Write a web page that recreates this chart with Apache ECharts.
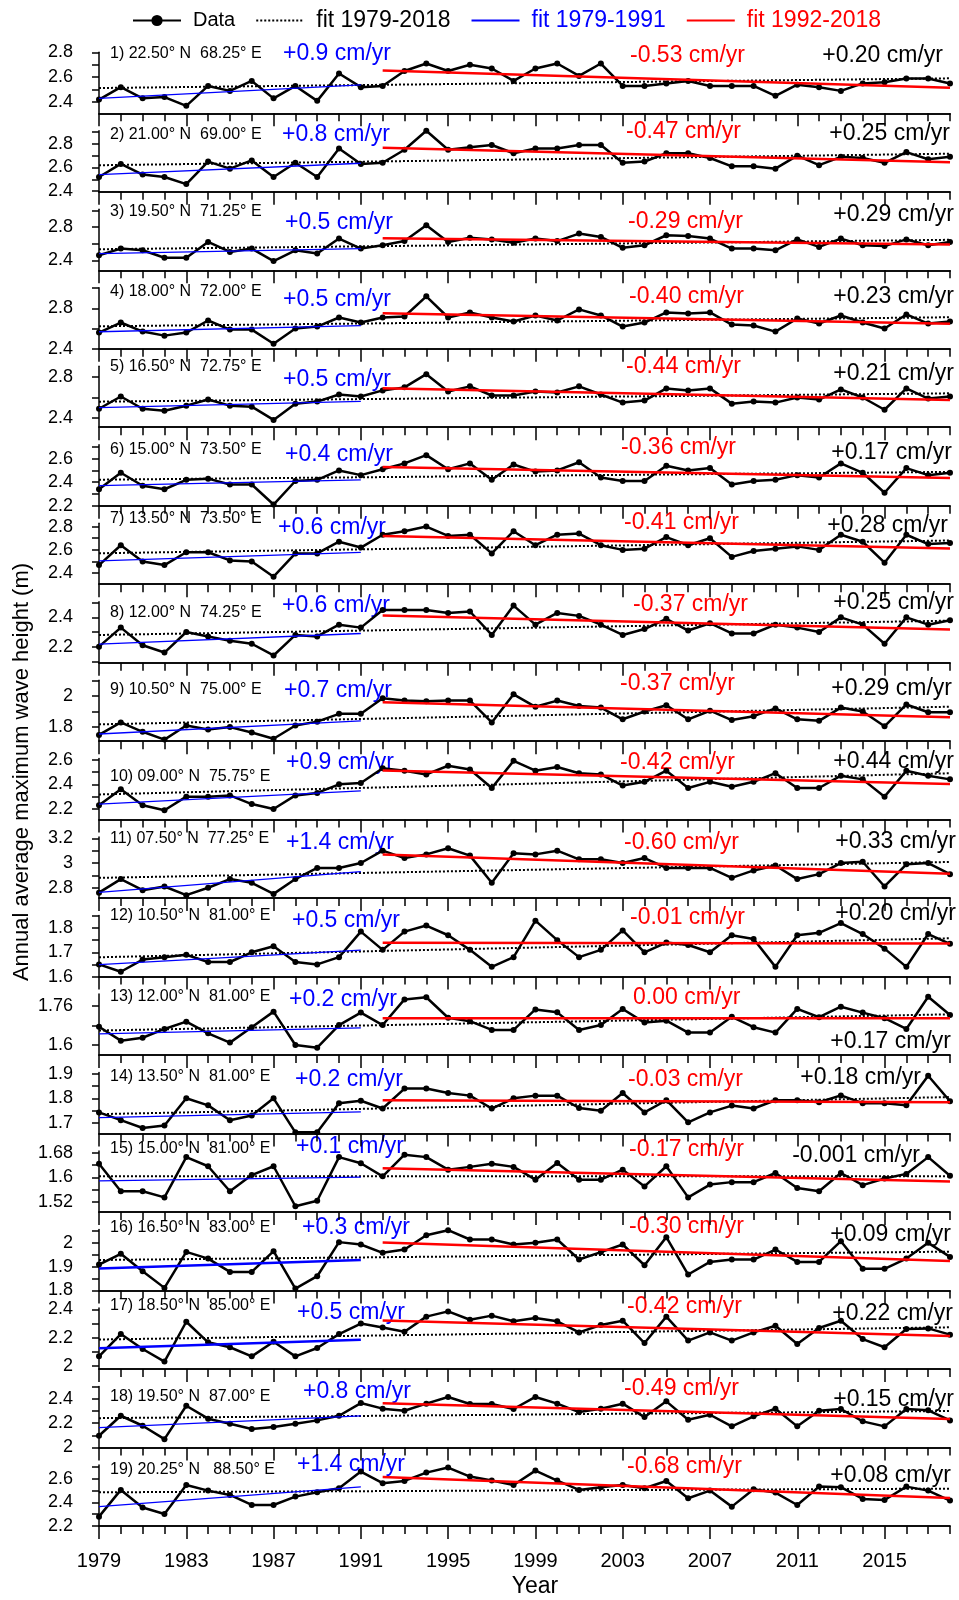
<!DOCTYPE html>
<html>
<head>
<meta charset="utf-8">
<script src="https://cdn.jsdelivr.net/npm/echarts@6/dist/echarts.min.js"></script>
<style>
  html, body { margin: 0; background: #fff; }
  #chart { width: 959px; height: 1600px; }
</style>
</head>
<body>
<div id="chart"></div>
<script>
// years on the x axis
const years = [1979, 1980, 1981, 1982, 1983, 1984, 1985, 1986, 1987, 1988,
  1989, 1990, 1991, 1992, 1993, 1994, 1995, 1996, 1997, 1998,
  1999, 2000, 2001, 2002, 2003, 2004, 2005, 2006, 2007, 2008,
  2009, 2010, 2011, 2012, 2013, 2014, 2015, 2016, 2017, 2018]

// annual average maximum wave height (m), one array per location
const h1 = [2.42, 2.52, 2.43, 2.44, 2.37, 2.53, 2.49, 2.57, 2.43, 2.53, 2.41, 2.63, 2.52, 2.53, 2.65, 2.71, 2.65, 2.70, 2.67, 2.57, 2.67, 2.71, 2.61, 2.71, 2.53, 2.53, 2.55, 2.57, 2.53, 2.53, 2.53, 2.45, 2.54, 2.52, 2.49, 2.55, 2.56, 2.59, 2.59, 2.55]
const h2 = [2.52, 2.63, 2.54, 2.52, 2.46, 2.65, 2.59, 2.66, 2.52, 2.64, 2.52, 2.76, 2.63, 2.64, 2.75, 2.91, 2.75, 2.77, 2.79, 2.72, 2.76, 2.76, 2.79, 2.79, 2.64, 2.65, 2.72, 2.72, 2.68, 2.61, 2.61, 2.59, 2.70, 2.62, 2.69, 2.68, 2.64, 2.73, 2.67, 2.69]
const h3 = [2.46, 2.54, 2.52, 2.43, 2.43, 2.62, 2.50, 2.54, 2.39, 2.52, 2.48, 2.66, 2.54, 2.58, 2.63, 2.82, 2.62, 2.67, 2.65, 2.61, 2.66, 2.63, 2.72, 2.68, 2.55, 2.58, 2.70, 2.69, 2.66, 2.54, 2.54, 2.52, 2.65, 2.56, 2.66, 2.58, 2.57, 2.65, 2.58, 2.62]
const h4 = [2.56, 2.66, 2.57, 2.53, 2.56, 2.68, 2.59, 2.59, 2.45, 2.60, 2.62, 2.71, 2.66, 2.71, 2.72, 2.92, 2.71, 2.76, 2.71, 2.67, 2.73, 2.68, 2.79, 2.73, 2.62, 2.66, 2.76, 2.75, 2.76, 2.64, 2.63, 2.57, 2.70, 2.65, 2.73, 2.66, 2.60, 2.74, 2.65, 2.67]
const h5 = [2.49, 2.61, 2.49, 2.47, 2.52, 2.58, 2.52, 2.51, 2.38, 2.54, 2.56, 2.63, 2.61, 2.67, 2.70, 2.83, 2.66, 2.71, 2.62, 2.62, 2.66, 2.65, 2.71, 2.63, 2.55, 2.57, 2.69, 2.67, 2.69, 2.54, 2.56, 2.55, 2.60, 2.58, 2.68, 2.60, 2.48, 2.69, 2.59, 2.61]
const h6 = [2.34, 2.48, 2.37, 2.34, 2.42, 2.43, 2.38, 2.38, 2.21, 2.41, 2.42, 2.50, 2.46, 2.51, 2.56, 2.63, 2.51, 2.56, 2.42, 2.55, 2.49, 2.50, 2.57, 2.44, 2.41, 2.41, 2.54, 2.50, 2.52, 2.38, 2.41, 2.42, 2.46, 2.44, 2.56, 2.48, 2.31, 2.52, 2.46, 2.48]
const h7 = [2.47, 2.64, 2.50, 2.47, 2.58, 2.58, 2.51, 2.50, 2.37, 2.57, 2.57, 2.67, 2.62, 2.73, 2.76, 2.80, 2.72, 2.73, 2.57, 2.76, 2.64, 2.73, 2.74, 2.64, 2.60, 2.61, 2.71, 2.64, 2.70, 2.54, 2.59, 2.61, 2.63, 2.60, 2.73, 2.67, 2.49, 2.73, 2.65, 2.66]
const h8 = [2.20, 2.33, 2.21, 2.16, 2.30, 2.27, 2.24, 2.22, 2.14, 2.28, 2.27, 2.35, 2.33, 2.45, 2.45, 2.45, 2.43, 2.44, 2.28, 2.48, 2.35, 2.43, 2.41, 2.35, 2.28, 2.32, 2.39, 2.31, 2.36, 2.29, 2.29, 2.35, 2.33, 2.30, 2.40, 2.35, 2.22, 2.40, 2.35, 2.38]
const h9 = [1.75, 1.83, 1.77, 1.72, 1.81, 1.785, 1.80, 1.765, 1.725, 1.81, 1.835, 1.885, 1.885, 1.985, 1.97, 1.965, 1.97, 1.97, 1.83, 2.01, 1.93, 1.97, 1.935, 1.925, 1.85, 1.90, 1.94, 1.85, 1.905, 1.845, 1.87, 1.92, 1.85, 1.84, 1.925, 1.90, 1.805, 1.945, 1.895, 1.895]
const h10 = [2.23, 2.36, 2.23, 2.19, 2.30, 2.30, 2.31, 2.24, 2.20, 2.31, 2.33, 2.40, 2.41, 2.53, 2.51, 2.48, 2.55, 2.52, 2.37, 2.59, 2.51, 2.54, 2.49, 2.48, 2.39, 2.42, 2.51, 2.37, 2.42, 2.38, 2.42, 2.49, 2.37, 2.37, 2.47, 2.44, 2.30, 2.51, 2.47, 2.44]
const h11 = [2.76, 2.87, 2.78, 2.81, 2.74, 2.80, 2.87, 2.84, 2.75, 2.87, 2.96, 2.96, 3.00, 3.10, 3.04, 3.07, 3.12, 3.06, 2.84, 3.08, 3.07, 3.10, 3.03, 3.03, 3.00, 3.04, 2.96, 2.96, 2.96, 2.88, 2.94, 2.98, 2.87, 2.91, 3.00, 3.01, 2.81, 2.99, 3.00, 2.91]
const h12 = [1.65, 1.62, 1.67, 1.68, 1.69, 1.66, 1.66, 1.70, 1.725, 1.66, 1.65, 1.68, 1.785, 1.71, 1.785, 1.81, 1.77, 1.71, 1.64, 1.68, 1.83, 1.75, 1.68, 1.71, 1.79, 1.70, 1.74, 1.73, 1.70, 1.77, 1.755, 1.64, 1.77, 1.78, 1.82, 1.775, 1.715, 1.64, 1.775, 1.735]
const h13 = [1.675, 1.618, 1.63, 1.666, 1.696, 1.648, 1.61, 1.673, 1.737, 1.60, 1.589, 1.682, 1.733, 1.682, 1.787, 1.796, 1.712, 1.698, 1.662, 1.662, 1.746, 1.734, 1.662, 1.682, 1.748, 1.692, 1.70, 1.651, 1.651, 1.716, 1.673, 1.651, 1.748, 1.714, 1.757, 1.733, 1.71, 1.666, 1.798, 1.723]
const h14 = [1.742, 1.71, 1.678, 1.688, 1.80, 1.771, 1.71, 1.729, 1.80, 1.66, 1.66, 1.78, 1.79, 1.758, 1.84, 1.84, 1.822, 1.811, 1.758, 1.80, 1.811, 1.811, 1.76, 1.749, 1.822, 1.742, 1.792, 1.701, 1.742, 1.77, 1.758, 1.792, 1.792, 1.784, 1.812, 1.78, 1.78, 1.771, 1.893, 1.788]
const h15 = [1.644, 1.554, 1.554, 1.534, 1.666, 1.636, 1.554, 1.607, 1.636, 1.505, 1.523, 1.666, 1.646, 1.603, 1.674, 1.666, 1.625, 1.634, 1.644, 1.634, 1.592, 1.647, 1.592, 1.592, 1.625, 1.57, 1.636, 1.534, 1.576, 1.584, 1.584, 1.614, 1.565, 1.554, 1.614, 1.574, 1.596, 1.611, 1.666, 1.605]
const h16 = [1.909, 1.954, 1.881, 1.811, 1.962, 1.934, 1.878, 1.878, 1.965, 1.808, 1.86, 2.003, 1.993, 1.958, 1.972, 2.032, 2.053, 2.014, 2.014, 1.993, 2.00, 2.014, 1.93, 1.961, 1.993, 1.906, 2.024, 1.867, 1.92, 1.93, 1.93, 1.972, 1.92, 1.92, 2.007, 1.891, 1.891, 1.934, 2.00, 1.941]
const h17 = [2.069, 2.226, 2.121, 2.032, 2.313, 2.168, 2.133, 2.069, 2.172, 2.069, 2.128, 2.226, 2.30, 2.273, 2.243, 2.349, 2.386, 2.327, 2.356, 2.316, 2.339, 2.316, 2.238, 2.29, 2.32, 2.163, 2.349, 2.18, 2.238, 2.18, 2.238, 2.285, 2.156, 2.269, 2.32, 2.191, 2.133, 2.262, 2.266, 2.222]
const h18 = [2.096, 2.26, 2.178, 2.068, 2.342, 2.236, 2.195, 2.151, 2.167, 2.195, 2.222, 2.26, 2.364, 2.318, 2.301, 2.359, 2.414, 2.356, 2.356, 2.315, 2.414, 2.359, 2.29, 2.318, 2.359, 2.249, 2.378, 2.227, 2.268, 2.173, 2.255, 2.318, 2.173, 2.301, 2.315, 2.214, 2.173, 2.315, 2.304, 2.222]
const h19 = [2.279, 2.506, 2.356, 2.302, 2.548, 2.50, 2.463, 2.378, 2.378, 2.449, 2.486, 2.52, 2.662, 2.563, 2.582, 2.653, 2.696, 2.619, 2.585, 2.548, 2.67, 2.585, 2.506, 2.529, 2.548, 2.52, 2.582, 2.435, 2.50, 2.364, 2.512, 2.483, 2.378, 2.534, 2.529, 2.429, 2.42, 2.534, 2.50, 2.415]
const heights = [h1, h2, h3, h4, h5, h6, h7, h8, h9, h10, h11, h12, h13, h14, h15, h16, h17, h18, h19]

const locations = [
  '1) 22.50° N  68.25° E', '2) 21.00° N  69.00° E', '3) 19.50° N  71.25° E',
  '4) 18.00° N  72.00° E', '5) 16.50° N  72.75° E', '6) 15.00° N  73.50° E',
  '7) 13.50° N  73.50° E', '8) 12.00° N  74.25° E', '9) 10.50° N  75.00° E',
  '10) 09.00° N  75.75° E', '11) 07.50° N  77.25° E', '12) 10.50° N  81.00° E',
  '13) 12.00° N  81.00° E', '14) 13.50° N  81.00° E', '15) 15.00° N  81.00° E',
  '16) 16.50° N  83.00° E', '17) 18.50° N  85.00° E', '18) 19.50° N  87.00° E',
  '19) 20.25° N   88.50° E']

// trends printed on each panel (cm/yr)
const trend7991 = ['+0.9', '+0.8', '+0.5', '+0.5', '+0.5', '+0.4', '+0.6', '+0.6', '+0.7', '+0.9', '+1.4', '+0.5', '+0.2', '+0.2', '+0.1', '+0.3', '+0.5', '+0.8', '+1.4']
const trend9218 = ['-0.53', '-0.47', '-0.29', '-0.40', '-0.44', '-0.36', '-0.41', '-0.37', '-0.37', '-0.42', '-0.60', '-0.01', '0.00', '-0.03', '-0.17', '-0.30', '-0.42', '-0.49', '-0.68']
const trend7918 = ['+0.20', '+0.25', '+0.29', '+0.23', '+0.21', '+0.17', '+0.28', '+0.25', '+0.29', '+0.44', '+0.33', '+0.20', '+0.17', '+0.18', '-0.001', '+0.09', '+0.22', '+0.15', '+0.08']

// y axis ranges, labelled values and tick values per panel
const yMin = [2.31, 2.395, 2.28, 2.40, 2.308, 2.2, 2.306, 2.091, 1.71, 2.114, 2.716, 1.6, 1.559, 1.655, 1.486, 1.8, 1.98, 2.0, 2.2]
const yMax = [2.80, 2.91, 3.012, 3.005, 2.908, 2.719, 2.829, 2.507, 2.101, 2.608, 3.21, 1.851, 1.809, 1.906, 1.686, 2.056, 2.41, 2.50, 2.718]
const yLabels = [
  [2.4, 2.6, 2.8], [2.4, 2.6, 2.8], [2.4, 2.8], [2.4, 2.8], [2.4, 2.8],
  [2.2, 2.4, 2.6], [2.4, 2.6, 2.8], [2.2, 2.4], [1.8, 2], [2.2, 2.4, 2.6],
  [2.8, 3, 3.2], [1.6, 1.7, 1.8], [1.6, 1.76], [1.7, 1.8, 1.9], [1.52, 1.6, 1.68],
  [1.8, 1.9, 2], [2, 2.2, 2.4], [2, 2.2, 2.4], [2.2, 2.4, 2.6]]
const yTicks = [
  [2.4, 2.5, 2.6, 2.7, 2.8], [2.4, 2.5, 2.6, 2.7, 2.8, 2.9], [2.4, 2.6, 2.8, 3.0], [2.4, 2.6, 2.8, 3.0], [2.4, 2.6, 2.8],
  [2.2, 2.3, 2.4, 2.5, 2.6, 2.7], [2.4, 2.5, 2.6, 2.7, 2.8], [2.1, 2.2, 2.3, 2.4, 2.5], [1.8, 1.9, 2.0, 2.1], [2.2, 2.3, 2.4, 2.5, 2.6],
  [2.8, 2.9, 3.0, 3.1, 3.2], [1.6, 1.65, 1.7, 1.75, 1.8, 1.85], [1.6, 1.68, 1.76], [1.7, 1.75, 1.8, 1.85, 1.9], [1.52, 1.56, 1.6, 1.64, 1.68],
  [1.8, 1.85, 1.9, 1.95, 2.0, 2.05], [2.0, 2.1, 2.2, 2.3, 2.4], [2.0, 2.1, 2.2, 2.3, 2.4, 2.5], [2.2, 2.3, 2.4, 2.5, 2.6, 2.7]]
const xLabelYears = [1979, 1983, 1987, 1991, 1995, 1999, 2003, 2007, 2011, 2015]

// layout (px)
const PLOT_LEFT = 99
const PLOT_RIGHT = 950
const PANEL_H = 61
const FIRST_BOTTOM = 113.3
const PITCH = 78.48
const FONT = '"Liberation Sans", Arial, sans-serif'
// text offsets from each panel top
const locDy = [1, 3.5, 2, 4, 0, 5, -5, 11, 9, 18, 1, 0, 3, 4, -2, -2, -2, 10, 5]
const blueDy = [1, 4, 13, 12, 13, 10, 4, 4, 11, 4, 6, 5, 6, 7, -4, -2, 5, 5, 0]
const blueX = [283, 282, 285, 283, 283, 285, 278, 282, 284, 286, 286, 292, 289, 295, 296, 302, 297, 303, 297]
const redDy = [3, 1, 12, 9, 0, 3, -1, 3, 4, 4, 6, 2, 4, 7, -1, -3, -1, 2, 2]
const redX = [632, 628, 630, 631, 628, 623, 626, 635, 622, 622, 626, 632, 635, 630, 631, 631, 629, 626, 629]
const allDy = [3, 3, 5, 9, 7, 8, 2, 1, 9, 3, 5, -2, 48, 5, 5, 5, 6, 13, 11]
const allRight = [943, 950, 954, 954, 954, 952, 948, 954, 952, 954, 956, 956, 951, 921, 920, 951, 953, 954, 951]

const mean = a => a.reduce((s, v) => s + v, 0) / a.length

// least-squares line with the printed slope passes through the centroid
function trendLine(xs, ys, cmPerYr) {
  const slope = parseFloat(cmPerYr) / 100
  const mx = mean(xs), my = mean(ys)
  const x0 = xs[0], x1 = xs[xs.length - 1]
  return [[x0, my + slope * (x0 - mx)], [x1, my + slope * (x1 - mx)]]
}

const grids = [], xAxes = [], xMajor = [], yAxes = [], series = [], graphics = []
const n = heights.length
const axisColor = { color: '#000', width: 1.5 }

heights.forEach((vals, i) => {
  const bottom = FIRST_BOTTOM + i * PITCH
  const top = bottom - PANEL_H
  const last = i === n - 1
  grids.push({ left: PLOT_LEFT, top: top, width: PLOT_RIGHT - PLOT_LEFT, height: PANEL_H })

  // yearly short ticks
  xAxes.push({
    type: 'value', gridIndex: i, position: 'bottom', min: 1979, max: 2018, interval: 1,
    splitLine: { show: false },
    axisLine: { lineStyle: axisColor },
    axisTick: { length: 8, lineStyle: axisColor },
    axisLabel: { show: false }
  })
  // longer ticks and labels every 4 years
  xMajor.push({
    type: 'value', gridIndex: i, position: 'bottom', min: 1979, max: 2018,
    splitLine: { show: false },
    axisLine: { lineStyle: axisColor },
    axisTick: { length: 13, customValues: xLabelYears, lineStyle: axisColor },
    axisLabel: {
      show: last, customValues: xLabelYears, margin: 26,
      color: '#000', fontSize: 20, fontFamily: FONT,
      formatter: v => String(v)
    }
  })

  yAxes.push({
    type: 'value', gridIndex: i, min: yMin[i], max: yMax[i],
    splitLine: { show: false },
    axisLine: { show: true, lineStyle: axisColor },
    axisTick: { show: true, length: 7, customValues: yTicks[i], lineStyle: axisColor },
    axisLabel: {
      margin: 26, color: '#000', fontSize: 18, fontFamily: FONT,
      customValues: yLabels[i],
      formatter: v => String(+v.toFixed(2))
    }
  })

  const early = years.slice(0, 13), late = years.slice(13)
  series.push(
    {
      name: 'Data', type: 'line', xAxisIndex: i, yAxisIndex: i,
      data: years.map((y, k) => [y, vals[k]]),
      symbol: 'circle', symbolSize: 6, z: 3,
      itemStyle: { color: '#000' },
      lineStyle: { color: '#000', width: 2.5 }
    },
    {
      name: 'fit 1979-2018', type: 'line', xAxisIndex: i, yAxisIndex: i,
      data: trendLine(years, vals, trend7918[i]),
      symbol: 'none', z: 4,
      itemStyle: { color: '#000' },
      lineStyle: { color: '#000', width: 2, type: 'dotted' }
    },
    {
      name: 'fit 1979-1991', type: 'line', xAxisIndex: i, yAxisIndex: i,
      data: trendLine(early, vals.slice(0, 13), trend7991[i]),
      symbol: 'none', z: 4,
      itemStyle: { color: '#0000ff' },
      lineStyle: { color: '#0000ff', width: (i === 15 || i === 16) ? 2.5 : 1.3 }
    },
    {
      name: 'fit 1992-2018', type: 'line', xAxisIndex: i, yAxisIndex: i,
      data: trendLine(late, vals.slice(13), trend9218[i]),
      symbol: 'none', z: 4,
      itemStyle: { color: '#ff0000' },
      lineStyle: { color: '#ff0000', width: 2.5 }
    }
  )

  graphics.push(
    { type: 'text', x: 110, y: top + locDy[i],
      style: { text: locations[i], fill: '#000', fontSize: 16, fontFamily: FONT, verticalAlign: 'middle' } },
    { type: 'text', x: blueX[i], y: top + blueDy[i],
      style: { text: trend7991[i] + ' cm/yr', fill: '#0000ff', fontSize: 23, fontFamily: FONT, verticalAlign: 'middle' } },
    { type: 'text', x: redX[i] - 2, y: top + redDy[i],
      style: { text: trend9218[i] + ' cm/yr', fill: '#ff0000', fontSize: 23, fontFamily: FONT, verticalAlign: 'middle' } },
    { type: 'text', x: allRight[i], y: top + allDy[i],
      style: { text: trend7918[i] + ' cm/yr', fill: '#000', fontSize: 23, fontFamily: FONT, align: 'right', verticalAlign: 'middle' } }
  )
})

graphics.push(
  { type: 'text', x: 22, y: 772, rotation: Math.PI / 2,
    style: { text: 'Annual average maximum wave height (m)', fill: '#000', fontSize: 22, fontFamily: FONT, align: 'center', verticalAlign: 'middle' } },
  { type: 'text', x: 535, y: 1587,
    style: { text: 'Year', fill: '#000', fontSize: 23, fontFamily: FONT, align: 'center', verticalAlign: 'middle' } }
)

const fitLegendText = (color) => ({ color: color, fontSize: 23, fontFamily: FONT, padding: [0, 0, 0, 7] })

const chart = echarts.init(document.getElementById('chart'), null, { renderer: 'canvas' })
chart.setOption({
  animation: false,
  backgroundColor: '#fff',
  legend: {
    left: 132, top: 9, padding: 0, itemWidth: 48, itemHeight: 14, itemGap: 20,
    data: [
      { name: 'Data', textStyle: { color: '#000', fontSize: 20, fontFamily: FONT, padding: [0, 0, 0, 7] } },
      { name: 'fit 1979-2018', itemStyle: { opacity: 0 }, textStyle: fitLegendText('#000') },
      { name: 'fit 1979-1991', itemStyle: { opacity: 0 }, textStyle: fitLegendText('#0000ff') },
      { name: 'fit 1992-2018', itemStyle: { opacity: 0 }, textStyle: fitLegendText('#ff0000') }
    ]
  },
  grid: grids,
  xAxis: xAxes.concat(xMajor),
  yAxis: yAxes,
  series: series,
  graphic: graphics
})
</script>
</body>
</html>
